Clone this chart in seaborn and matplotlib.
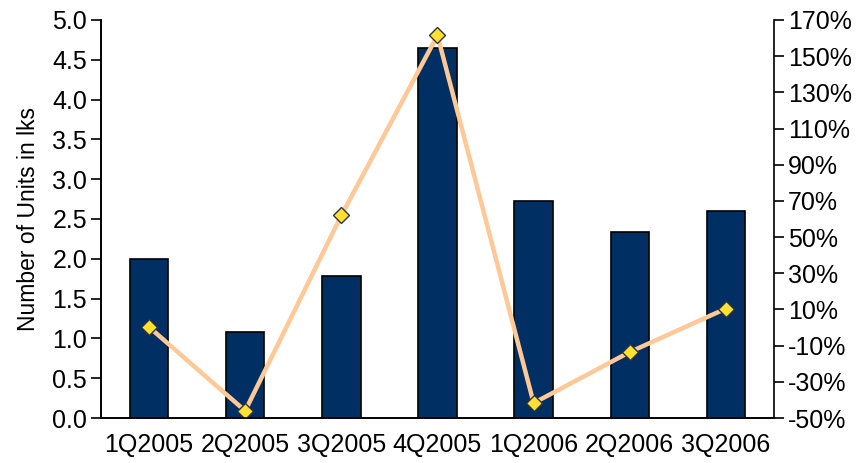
import matplotlib
matplotlib.use("Agg")
import matplotlib.pyplot as plt
import seaborn as sns
import numpy as np
import pandas as pd
from matplotlib.ticker import FuncFormatter, FixedLocator

quarters = ["1Q2005", "2Q2005", "3Q2005", "4Q2005", "1Q2006", "2Q2006", "3Q2006"]
units = [2.0, 1.08, 1.78, 4.65, 2.72, 2.34, 2.6]
growth = [0.3, -46, 62, 161.5, -41.7, -13.5, 10.5]

sns.set_style("white")
plt.rcParams['font.family'] = ['Liberation Sans', 'DejaVu Sans']
plt.rcParams['text.color'] = 'black'
plt.rcParams['axes.labelcolor'] = 'black'
plt.rcParams['xtick.color'] = 'black'
plt.rcParams['ytick.color'] = 'black'

df = pd.DataFrame({"quarter": quarters, "units": units, "growth": growth})

fig, ax = plt.subplots(figsize=(8.6, 4.63), dpi=100)
fig.subplots_adjust(left=0.1174, right=0.9, top=0.957, bottom=0.097)

sns.barplot(data=df, x="quarter", y="units", color="#003063", width=0.4,
            edgecolor="black", linewidth=1.2, saturation=1, ax=ax)
ax.set_ylim(0, 5.0)
ax.set_yticks(np.arange(0, 5.01, 0.5))
ax.yaxis.set_major_formatter(FuncFormatter(lambda v, p: f"{v:.1f}"))
ax.set_xlim(-0.5, 6.5)
ax.set_xlabel("")
ax.set_ylabel("Number of Units in lks", fontsize=16.5, labelpad=9)

# category labels centred, tick marks between categories
ax.set_xticks(np.arange(7))
ax.set_xticklabels(quarters, fontsize=18)
ax.tick_params(axis="x", which="major", length=0, pad=11)
ax.xaxis.set_minor_locator(FixedLocator(np.arange(-0.5, 7, 1)))
ax.tick_params(axis="x", which="minor", length=7, width=1.2, direction="out", color="black")
ax.tick_params(axis="y", length=7, width=1.2, direction="out", color="black", labelsize=18, pad=3)
ax.yaxis.set_ticks_position("left")

ax2 = ax.twinx()
sns.lineplot(x=np.arange(7), y=growth, ax=ax2, color="#FFC896", linewidth=3.2,
             marker="D", markersize=8, markerfacecolor="#FFE033",
             markeredgecolor="#333333", markeredgewidth=1)
ax2.set_ylim(-50, 170)
ax2.set_yticks(np.arange(-50, 171, 20))
ax2.yaxis.set_major_formatter(FuncFormatter(lambda v, p: f"{v:.0f}%"))
ax2.tick_params(axis="y", length=7, width=1.2, direction="out", color="black", labelsize=18, pad=3)
ax2.set_xlim(-0.5, 6.5)

for a in (ax, ax2):
    a.spines["top"].set_visible(False)
    for s in ("left", "bottom", "right"):
        a.spines[s].set_color("black")
        a.spines[s].set_linewidth(1.2)
ax.spines["right"].set_visible(False)

fig.savefig("out.png", dpi=100)
